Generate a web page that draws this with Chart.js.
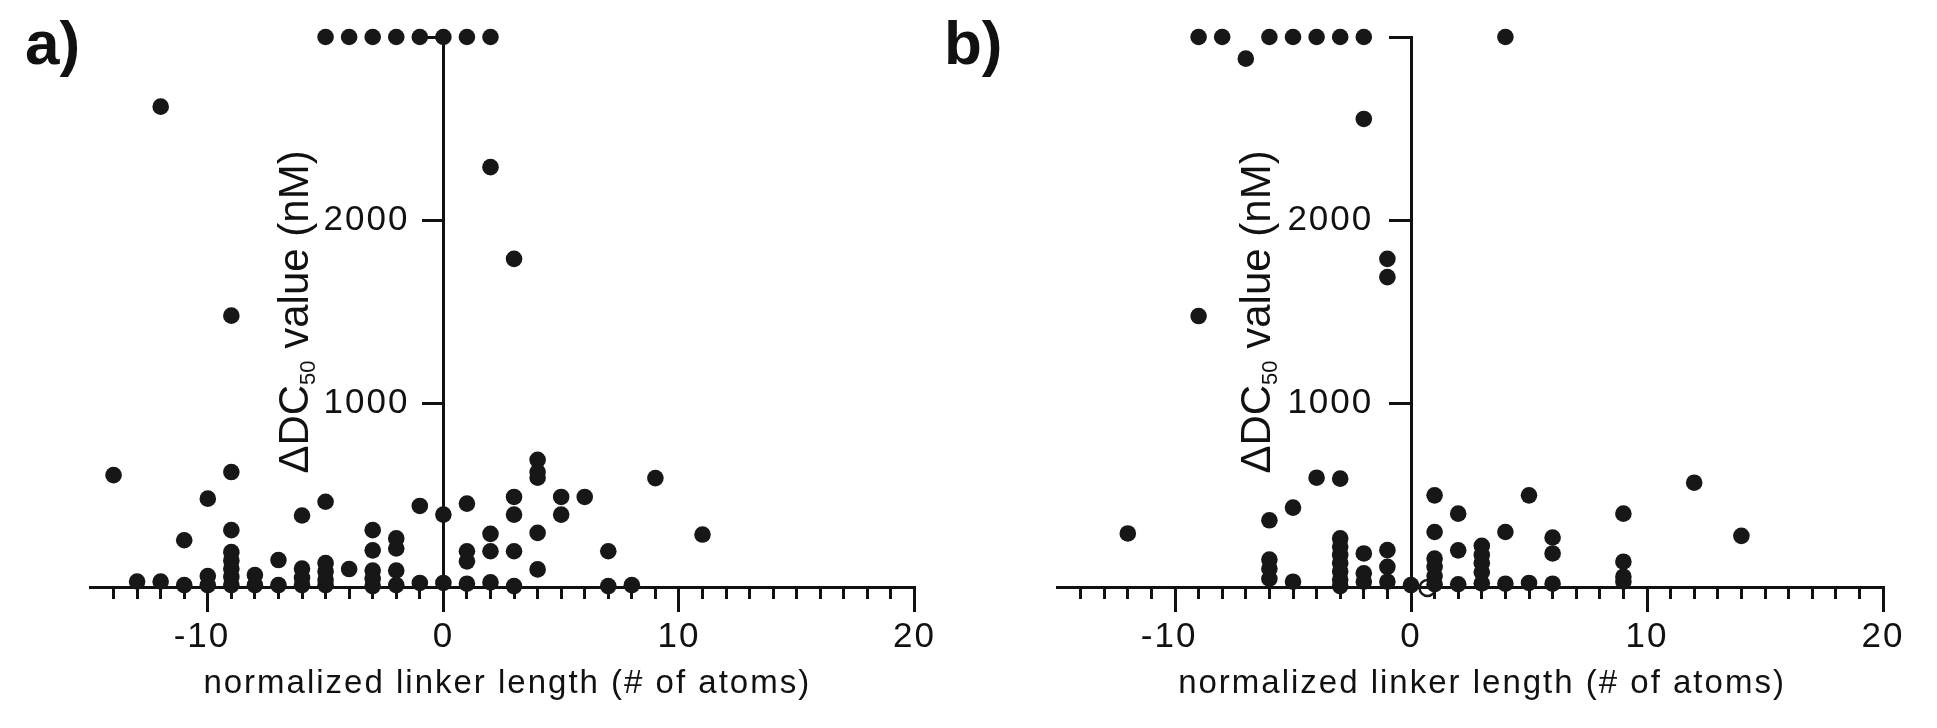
<!DOCTYPE html>
<html><head><meta charset="utf-8">
<script src="https://cdn.jsdelivr.net/npm/chart.js@4.4.1/dist/chart.umd.min.js"></script>
<style>
html,body{margin:0;padding:0;background:#fff;width:1937px;height:728px;overflow:hidden;}
.panel{position:absolute;top:0;height:728px;}
#pa{left:0;width:940px;}
#pb{left:940px;width:997px;}
</style></head><body>
<div class="panel" id="pa"><canvas id="ca"></canvas></div>
<div class="panel" id="pb"><canvas id="cb"></canvas></div>
<script>
// ---- data (panel a) ----
const linkerA = [-14,-13,-12,-11,-10,-9,-8,-7,-6,-5,-4,-3,-2,-1,0,1,2,3,4,5,6,7,8,9,11];
const dc50A = [
  [610],[30],[2620,30],[255,10],[482,60,10],
  [1480,627,310,190,145,100,55,10],[65,10],[147,10],[390,100,50,10],
  [3000,465,130,85,40,10],[3000,98],[3000,310,200,90,45,5],[3000,265,210,90,10],
  [3000,442,22],[3000,395,22],[3000,455,195,140,18],[3000,2290,290,195,25],
  [1790,491,395,195,5],[694,627,596,295,96],[491,395],[491],[195,5],[10],[594],[286]
];
// ---- data (panel b) ----
const linkerB = [-12,-9,-8,-7,-6,-5,-4,-3,-2,-1,0,1,2,3,4,5,6,9,12,14];
const dc50B = [
  [292],[3000,1478],[3000],[2882],[3000,364,150,100,45],[3000,433,29],[3000,596],
  [3000,591,265,220,175,130,85,40,5],[3000,2553,183,75,29],[1790,1690,201,110,29],
  [10],[500,300,155,110,60,15],[400,200,15],[225,175,130,80,20],[3000,300,18],
  [500,22],[270,183,18],[400,138,56,30],[569],[279]
];
const openLinkerB = [0.7];
const openDc50B = [-5];
// ---- axis ticks / labels ----
const xLabelTicks = [-10, 0, 10, 20];
const yLabelTicks = [1000, 2000];
const X_TITLE = 'normalized linker length (# of atoms)';
const Y_TITLE = ['\u0394DC', '50', ' value (nM)'];

const INK = '#111111';
const DOT = '#171717';
const FAMILY = '"Liberation Sans", Arial, Helvetica, sans-serif';
Chart.defaults.font.family = FAMILY;
Chart.defaults.color = INK;

function toPoints(xs, vals) {
  const pts = [];
  xs.forEach((x, i) => vals[i].forEach(v => pts.push({x: x, y: v})));
  return pts;
}
function zip(xs, ys) { return xs.map((x, i) => ({x: x, y: ys[i]})); }

const annotPlugin = {
  id: 'annot',
  beforeDraw(chart) {
    // slightly wider tick lettering, as in the original figure
    if ('letterSpacing' in chart.ctx) chart.ctx.letterSpacing = '2px';
  },
  afterDraw(chart, args, o) {
    const {ctx, chartArea: ca, scales} = chart;
    if ('letterSpacing' in ctx) ctx.letterSpacing = '0px';
    ctx.save();
    ctx.fillStyle = INK;
    ctx.textBaseline = 'alphabetic';
    ctx.textAlign = 'left';
    ctx.font = 'bold 62px ' + FAMILY;
    ctx.fillText(o.letter, o.letterX, o.letterY);
    // x title
    ctx.font = '33px ' + FAMILY;
    if ('letterSpacing' in ctx) ctx.letterSpacing = '2px';
    ctx.textAlign = 'center';
    ctx.fillText(X_TITLE, (ca.left + ca.right) / 2 + o.xShift, o.xBase);
    if ('letterSpacing' in ctx) ctx.letterSpacing = '0px';
    // y title (rotated, with subscript)
    const bx = scales.x.getPixelForValue(0) - o.yGap;
    const cy = (ca.top + ca.bottom) / 2;
    ctx.translate(bx, cy);
    ctx.rotate(-Math.PI / 2);
    ctx.textAlign = 'left';
    const big = '42px ' + FAMILY, small = '22px ' + FAMILY;
    ctx.font = big;
    const w1 = ctx.measureText(Y_TITLE[0]).width;
    const w3 = ctx.measureText(Y_TITLE[2]).width;
    ctx.font = small;
    const w2 = ctx.measureText(Y_TITLE[1]).width;
    let x = -(w1 + w2 + w3) / 2;
    ctx.font = big; ctx.fillText(Y_TITLE[0], x, 0); x += w1;
    ctx.font = small; ctx.fillText(Y_TITLE[1], x, 7); x += w2;
    ctx.font = big; ctx.fillText(Y_TITLE[2], x, 0);
    ctx.restore();
  }
};

function xLabel(v) {
  if (!xLabelTicks.includes(v)) return '';
  // centre the digits on the tick, minus sign hanging to the left
  return v < 0 ? String(v) + ' ' : String(v);
}

function makePanel(id, points, openPoints, cfg) {
  const datasets = [{
    data: points, pointRadius: 8.3, pointHoverRadius: 8.3, backgroundColor: DOT,
    borderWidth: 0, clip: false, showLine: false, xAxisID: 'x', yAxisID: 'y'
  }];
  if (openPoints.length) datasets.push({
    data: openPoints, pointRadius: 8, pointHoverRadius: 8, backgroundColor: 'rgba(0,0,0,0)',
    borderColor: DOT, borderWidth: 2.5, clip: false, showLine: false, xAxisID: 'x', yAxisID: 'y'
  });
  return new Chart(document.getElementById(id), {
    type: 'scatter',
    data: {datasets},
    plugins: [annotPlugin],
    options: {
      responsive: true, maintainAspectRatio: false, animation: false,
      layout: {padding: cfg.padding},
      plugins: {legend: {display: false}, tooltip: {enabled: false}, annot: cfg.annot},
      scales: {
        x: {
          type: 'linear', axis: 'x', position: {y: 0}, min: -15, max: 20,
          ticks: {stepSize: 10, autoSkip: false, maxRotation: 0, padding: 6,
                  font: {size: 35}, color: INK, callback: xLabel},
          afterBuildTicks: s => { s.ticks = s.ticks.filter(t => xLabelTicks.includes(t.value)); },
          grid: {display: true, drawOnChartArea: false, drawTicks: true, tickLength: 23,
                 tickWidth: 3, tickColor: INK, color: INK, lineWidth: 3},
          border: {display: true, width: 3, color: INK}
        },
        x2: {
          type: 'linear', axis: 'x', position: {y: 0}, min: -15, max: 20,
          ticks: {stepSize: 1, display: false, autoSkip: false},
          afterBuildTicks: s => { s.ticks = s.ticks.filter(t => t.value > -15); },
          grid: {display: true, drawOnChartArea: false, drawTicks: true, tickLength: 12,
                 tickWidth: 3, tickColor: INK, color: INK, lineWidth: 3},
          border: {display: false}
        },
        y: {
          type: 'linear', axis: 'y', position: {x: 0}, min: 0, max: 3000,
          ticks: {stepSize: 1000, display: false},
          grid: {display: true, drawOnChartArea: false, drawTicks: true, tickLength: cfg.yTick,
                 tickWidth: 3, tickColor: INK, color: INK, lineWidth: 3},
          border: {display: true, width: 3, color: INK}
        },
        yl: {
          type: 'linear', axis: 'y', position: {x: cfg.yLabelAt}, min: 0, max: 3000,
          ticks: {stepSize: 1000, font: {size: 35}, color: INK,
                  callback: v => yLabelTicks.includes(v) ? String(v) : ''},
          grid: {display: false, drawTicks: false},
          border: {display: false}
        }
      }
    }
  });
}

makePanel('ca', toPoints(linkerA, dc50A), [], {
  padding: {left: 90, right: 24, top: 37, bottom: 141},
  yTick: 20, yLabelAt: -1.44,
  annot: {letter: 'a)', letterX: 25, letterY: 64, xShift: 5, xBase: 693, yGap: 135}
});
makePanel('cb', toPoints(linkerB, dc50B), zip(openLinkerB, openDc50B), {
  padding: {left: 117, right: 54, top: 37, bottom: 141},
  yTick: 21, yLabelAt: -1.6,
  annot: {letter: 'b)', letterX: 4, letterY: 64, xShift: 12, xBase: 693, yGap: 141}
});
</script>
</body></html>
